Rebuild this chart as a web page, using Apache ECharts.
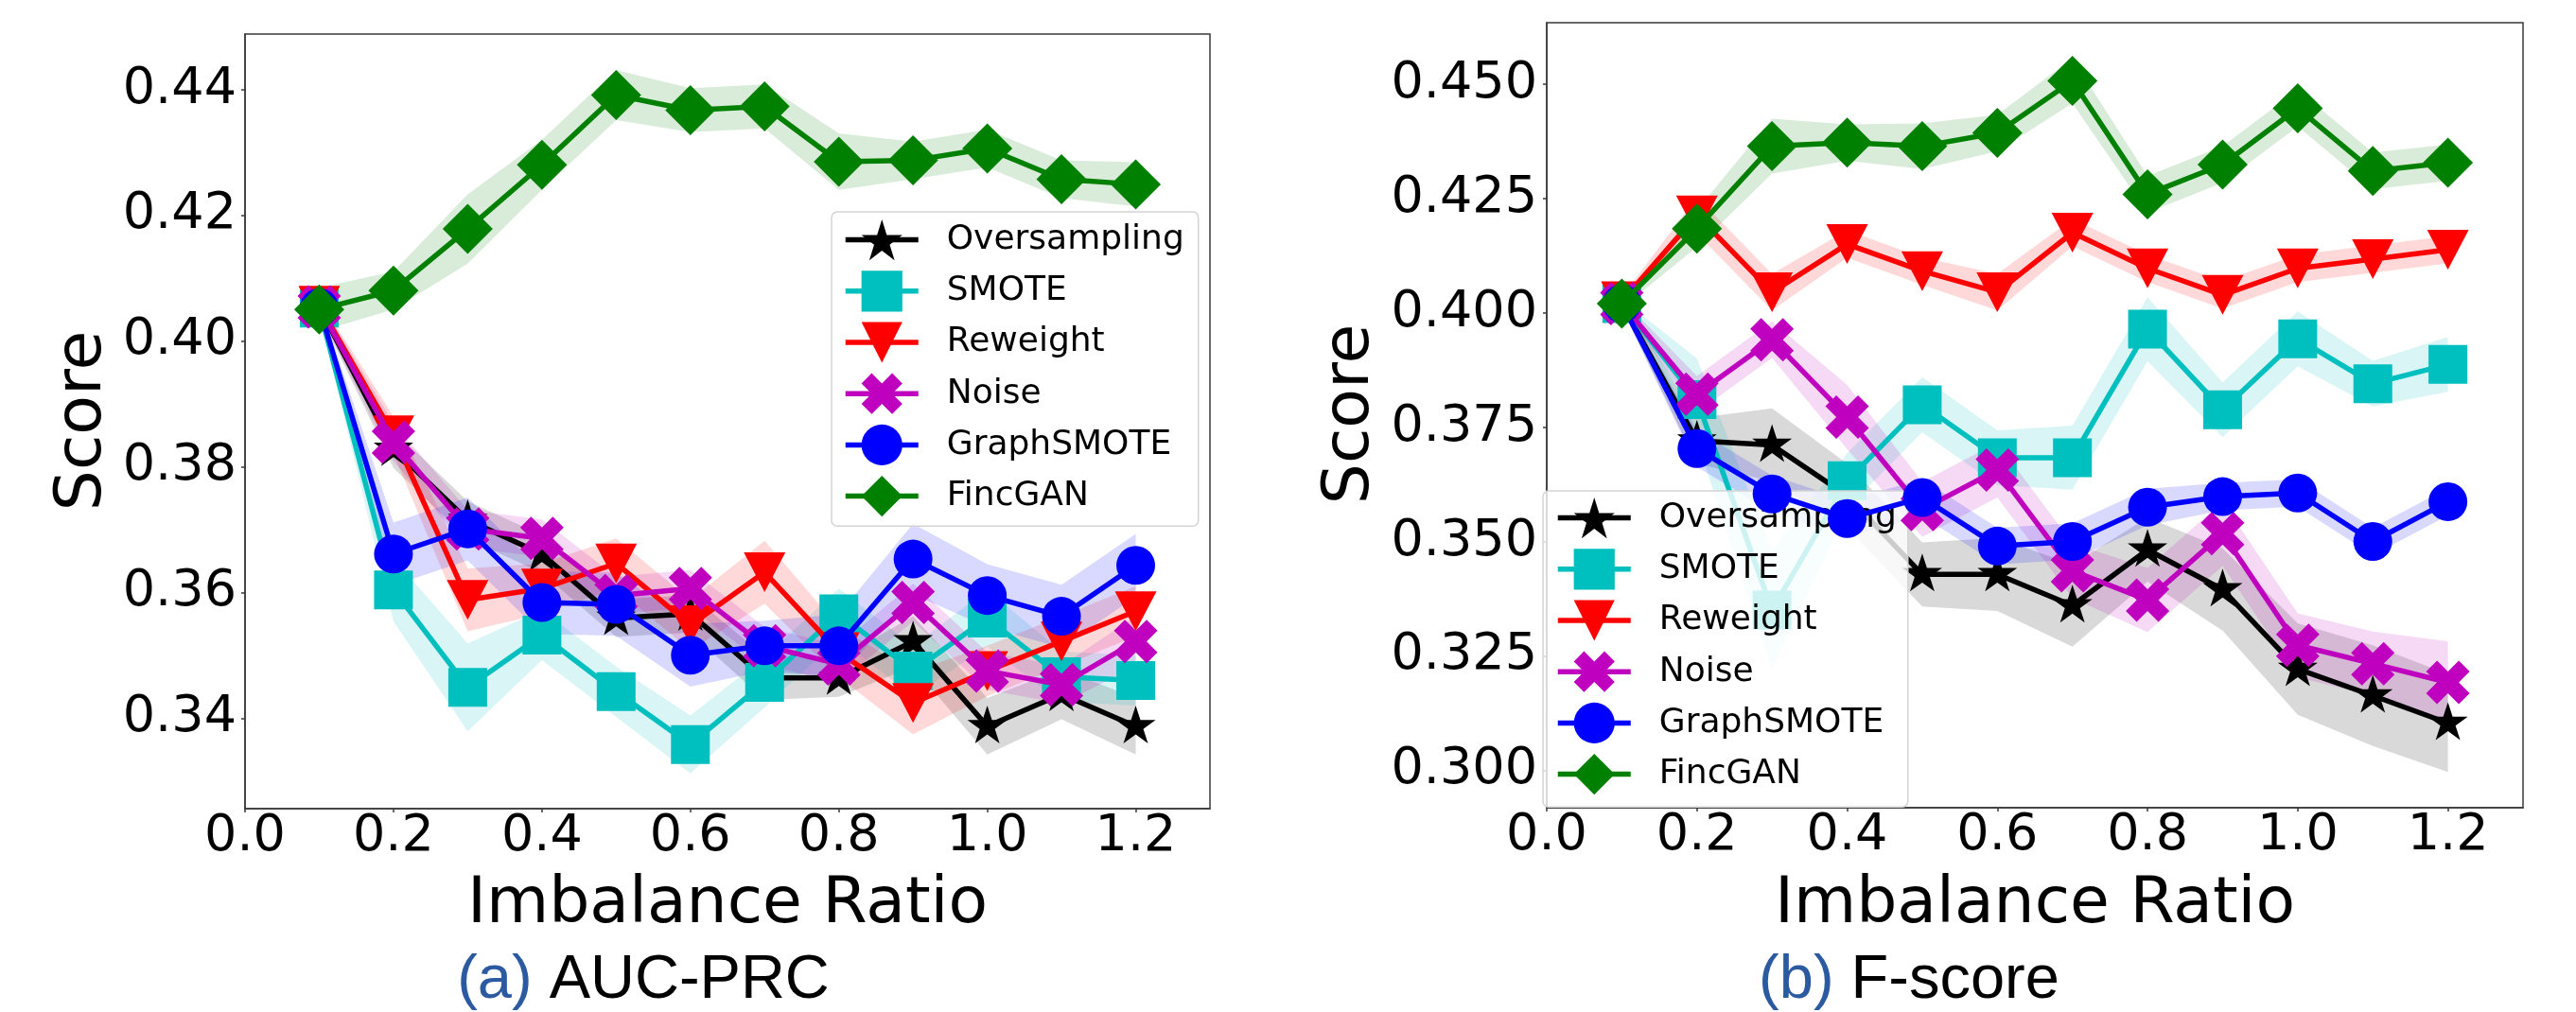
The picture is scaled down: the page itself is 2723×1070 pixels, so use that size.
<!DOCTYPE html>
<html>
<head>
<meta charset="utf-8">
<script src="https://cdn.jsdelivr.net/npm/echarts@6/dist/echarts.min.js"></script>
<style>
html,body{margin:0;padding:0;background:#fff;}
#chart{width:2723px;height:1070px;}
</style>
</head>
<body>
<div id="chart"></div>
<script>
// ---------------- data ----------------
const ratios = [0.1, 0.2, 0.3, 0.4, 0.5, 0.6, 0.7, 0.8, 0.9, 1.0, 1.1, 1.2];
const methods = ['Oversampling', 'SMOTE', 'Reweight', 'Noise', 'GraphSMOTE', 'FincGAN'];
const xTicks = [0.0, 0.2, 0.4, 0.6, 0.8, 1.0, 1.2];
const yTicksAUC = [0.34, 0.36, 0.38, 0.40, 0.42, 0.44];
const yTicksF = [0.300, 0.325, 0.350, 0.375, 0.400, 0.425, 0.450];

// (a) AUC-PRC means
const aucOversampling = [0.4054, 0.3828, 0.3715, 0.3661, 0.3559, 0.3566, 0.3464, 0.3464, 0.3522, 0.3387, 0.3438, 0.3387];
const aucSMOTE        = [0.4052, 0.3604, 0.3449, 0.3532, 0.3442, 0.3358, 0.3457, 0.3566, 0.3475, 0.3559, 0.3466, 0.3460];
const aucReweight     = [0.4056, 0.3850, 0.3588, 0.3606, 0.3646, 0.3548, 0.3632, 0.3505, 0.3424, 0.3475, 0.3522, 0.3570];
const aucNoise        = [0.4054, 0.3839, 0.3701, 0.3686, 0.3595, 0.3606, 0.3515, 0.3486, 0.3584, 0.3475, 0.3453, 0.3522];
const aucGraphSMOTE   = [0.4053, 0.3661, 0.3701, 0.3584, 0.3581, 0.3500, 0.3515, 0.3515, 0.3653, 0.3595, 0.3562, 0.3643];
const aucFincGAN      = [0.4050, 0.4080, 0.4178, 0.4280, 0.4391, 0.4367, 0.4373, 0.4285, 0.4287, 0.4306, 0.4257, 0.4249];
// (a) AUC-PRC std (shaded band half-width)
const aucOversamplingStd = [0.0010, 0.0030, 0.0030, 0.0030, 0.0030, 0.0030, 0.0035, 0.0030, 0.0040, 0.0045, 0.0040, 0.0045];
const aucSMOTEStd        = [0.0010, 0.0050, 0.0070, 0.0040, 0.0040, 0.0046, 0.0040, 0.0040, 0.0040, 0.0045, 0.0040, 0.0040];
const aucReweightStd     = [0.0010, 0.0030, 0.0050, 0.0040, 0.0040, 0.0040, 0.0050, 0.0040, 0.0050, 0.0040, 0.0040, 0.0040];
const aucNoiseStd        = [0.0010, 0.0030, 0.0030, 0.0030, 0.0030, 0.0030, 0.0030, 0.0030, 0.0030, 0.0030, 0.0030, 0.0040];
const aucGraphSMOTEStd   = [0.0010, 0.0050, 0.0050, 0.0050, 0.0050, 0.0050, 0.0040, 0.0050, 0.0056, 0.0050, 0.0050, 0.0050];
const aucFincGANStd      = [0.0035, 0.0030, 0.0055, 0.0040, 0.0040, 0.0035, 0.0035, 0.0045, 0.0030, 0.0030, 0.0030, 0.0035];

// (b) F-score means
const fOversampling = [0.4020, 0.3720, 0.3711, 0.3600, 0.3428, 0.3428, 0.3360, 0.3482, 0.3395, 0.3221, 0.3163, 0.3103];
const fSMOTE        = [0.4020, 0.3810, 0.3350, 0.3633, 0.3799, 0.3683, 0.3683, 0.3964, 0.3788, 0.3943, 0.3845, 0.3887];
const fReweight     = [0.4025, 0.4213, 0.4045, 0.4150, 0.4091, 0.4045, 0.4175, 0.4097, 0.4039, 0.4097, 0.4117, 0.4138];
const fNoise        = [0.4020, 0.3822, 0.3941, 0.3772, 0.3570, 0.3656, 0.3436, 0.3372, 0.3517, 0.3273, 0.3233, 0.3192];
const fGraphSMOTE   = [0.4020, 0.3703, 0.3604, 0.3550, 0.3596, 0.3490, 0.3500, 0.3575, 0.3598, 0.3606, 0.3500, 0.3587];
const fFincGAN      = [0.4020, 0.4184, 0.4364, 0.4372, 0.4364, 0.4393, 0.4507, 0.4259, 0.4324, 0.4447, 0.4310, 0.4328];
// (b) F-score std
const fOversamplingStd = [0.0010, 0.0050, 0.0080, 0.0070, 0.0070, 0.0080, 0.0090, 0.0070, 0.0090, 0.0100, 0.0110, 0.0107];
const fSMOTEStd        = [0.0010, 0.0090, 0.0130, 0.0060, 0.0060, 0.0060, 0.0070, 0.0070, 0.0060, 0.0060, 0.0050, 0.0060];
const fReweightStd     = [0.0010, 0.0040, 0.0040, 0.0030, 0.0030, 0.0040, 0.0030, 0.0030, 0.0030, 0.0030, 0.0030, 0.0030];
const fNoiseStd        = [0.0010, 0.0040, 0.0040, 0.0070, 0.0060, 0.0060, 0.0060, 0.0070, 0.0070, 0.0070, 0.0070, 0.0090];
const fGraphSMOTEStd   = [0.0010, 0.0040, 0.0040, 0.0040, 0.0040, 0.0040, 0.0040, 0.0040, 0.0030, 0.0030, 0.0030, 0.0030];
const fFincGANStd      = [0.0010, 0.0040, 0.0060, 0.0040, 0.0050, 0.0040, 0.0049, 0.0040, 0.0040, 0.0040, 0.0040, 0.0040];

// ---------------- styles ----------------
const colors = {Oversampling:'#000000', SMOTE:'#00bfbf', Reweight:'#ff0000', Noise:'#bf00bf', GraphSMOTE:'#0000ff', FincGAN:'#008000'};
const STAR = 'path://M0,-1000 L224.5,-309 L951.1,-309 L363.3,118 L587.8,809 L0,382 L-587.8,809 L-363.3,118 L-951.1,-309 L-224.5,-309 Z';
const XFILL = 'path://M1414,-2828 L2828,-1414 L1414,0 L2828,1414 L1414,2828 L0,1414 L-1414,2828 L-2828,1414 L-1414,0 L-2828,-1414 L-1414,-2828 L0,-1414 Z';
const TRI_DOWN = 'path://M-1000,-1000 L1000,-1000 L0,1000 Z';
const symbols = {
  Oversampling: {symbol: STAR, size: [42, 40], offset: [0, -2]},
  SMOTE: {symbol: 'rect', size: 41, offset: [0, 0]},
  Reweight: {symbol: TRI_DOWN, size: [44, 42], offset: [0, 0]},
  Noise: {symbol: XFILL, size: 46, offset: [0, 0]},
  GraphSMOTE: {symbol: 'circle', size: 41, offset: [0, 0]},
  FincGAN: {symbol: 'diamond', size: 53, offset: [0, 0]}
};

const aucMeans = [aucOversampling, aucSMOTE, aucReweight, aucNoise, aucGraphSMOTE, aucFincGAN];
const aucStds = [aucOversamplingStd, aucSMOTEStd, aucReweightStd, aucNoiseStd, aucGraphSMOTEStd, aucFincGANStd];
const fMeans = [fOversampling, fSMOTE, fReweight, fNoise, fGraphSMOTE, fFincGAN];
const fStds = [fOversamplingStd, fSMOTEStd, fReweightStd, fNoiseStd, fGraphSMOTEStd, fFincGANStd];

function rgba(hex, a) {
  const r = parseInt(hex.slice(1,3),16), g = parseInt(hex.slice(3,5),16), b = parseInt(hex.slice(5,7),16);
  return 'rgba(' + r + ',' + g + ',' + b + ',' + a + ')';
}

function bandSeries(name, ys, sd, axisIdx) {
  return {
    type: 'custom',
    name: name + ' band ' + axisIdx,
    xAxisIndex: axisIdx, yAxisIndex: axisIdx,
    silent: true, z: 1, clip: true,
    data: [[ratios[0], ys[0]]],
    encode: {x: 0, y: 1},
    renderItem: function (params, api) {
      const pts = [];
      for (let i = 0; i < ratios.length; i++) pts.push(api.coord([ratios[i], ys[i] + sd[i]]));
      for (let i = ratios.length - 1; i >= 0; i--) pts.push(api.coord([ratios[i], ys[i] - sd[i]]));
      return {type: 'polygon', shape: {points: pts}, style: {fill: rgba(colors[name], 0.15)}};
    }
  };
}

function lineSeries(name, ys, axisIdx, order) {
  const s = symbols[name];
  return {
    type: 'line', name: name,
    xAxisIndex: axisIdx, yAxisIndex: axisIdx,
    data: ratios.map((x, i) => [x, ys[i]]),
    symbol: s.symbol, symbolSize: s.size, symbolOffset: s.offset,
    showAllSymbol: true, z: 2 + order, clip: false,
    lineStyle: {color: colors[name], width: 5.5},
    itemStyle: {color: colors[name], borderWidth: 0},
    emphasis: {disabled: true}
  };
}

const series = [];
methods.forEach((m, i) => series.push(bandSeries(m, aucMeans[i], aucStds[i], 0)));
methods.forEach((m, i) => series.push(bandSeries(m, fMeans[i], fStds[i], 1)));
methods.forEach((m, i) => series.push(lineSeries(m, aucMeans[i], 0, i)));
methods.forEach((m, i) => series.push(lineSeries(m, fMeans[i], 1, i)));

const FONT = '"DejaVu Sans", sans-serif';
const axisColor = '#3a3a3a';

function xAxisCfg(gridIndex) {
  return {
    type: 'value', gridIndex: gridIndex, min: 0, max: 1.3,
    axisLine: {show: true, onZero: false, lineStyle: {color: axisColor, width: 1.5}},
    axisTick: {show: true, length: 4, customValues: xTicks, lineStyle: {color: axisColor, width: 1.5}},
    axisLabel: {customValues: xTicks, formatter: v => v.toFixed(1), fontFamily: FONT, fontSize: 54, color: '#000', margin: 3},
    splitLine: {show: false}
  };
}
function yAxisCfg(gridIndex, min, max, ticks, dec, margin) {
  return {
    type: 'value', gridIndex: gridIndex, min: min, max: max,
    axisLine: {show: true, onZero: false, lineStyle: {color: axisColor, width: 1.5}},
    axisTick: {show: true, length: 4, customValues: ticks, lineStyle: {color: axisColor, width: 1.5}},
    axisLabel: {customValues: ticks, formatter: v => v.toFixed(dec), fontFamily: FONT, fontSize: 54, color: '#000', margin: margin},
    splitLine: {show: false}
  };
}

function legendCfg(left, top, padding) {
  return {
    show: true, orient: 'vertical', left: left, top: top, padding: padding,
    data: methods, itemWidth: 77, itemHeight: 54, itemGap: 11,
    selectedMode: false,
    lineStyle: {width: 5.5},
    backgroundColor: 'rgba(255,255,255,0.8)', borderColor: '#d4d4d4', borderWidth: 1.5, borderRadius: 6,
    textStyle: {fontFamily: FONT, fontSize: 36, color: '#000', padding: [0, 0, 0, 25]}
  };
}

const option = {
  animation: false,
  backgroundColor: '#ffffff',
  grid: [
    {left: 259, top: 36, width: 1020, height: 819, show: true, borderColor: axisColor, borderWidth: 1.5, backgroundColor: 'transparent', containLabel: false},
    {left: 1635, top: 24, width: 1032, height: 830, show: true, borderColor: axisColor, borderWidth: 1.5, backgroundColor: 'transparent', containLabel: false}
  ],
  xAxis: [xAxisCfg(0), xAxisCfg(1)],
  yAxis: [
    yAxisCfg(0, 0.3256, 0.4488, yTicksAUC, 2, 9),
    yAxisCfg(1, 0.2918, 0.4634, yTicksF, 3, 10)
  ],
  legend: [legendCfg(879, 224, [8, 15, 10, 12]), legendCfg(1631, 519, [7, 12, 13, 13])],
  series: series,
  graphic: [
    {type: 'text', x: 88, y: 445, rotation: Math.PI / 2,
     style: {text: 'Score', font: '68px "DejaVu Sans"', fill: '#000', textAlign: 'center', textVerticalAlign: 'middle', align: 'center', verticalAlign: 'middle'}},
    {type: 'text', x: 1428, y: 438, rotation: Math.PI / 2,
     style: {text: 'Score', font: '68px "DejaVu Sans"', fill: '#000', textAlign: 'center', textVerticalAlign: 'middle', align: 'center', verticalAlign: 'middle'}},
    {type: 'text', x: 769, y: 957,
     style: {text: 'Imbalance Ratio', font: '68px "DejaVu Sans"', fill: '#000', textAlign: 'center', textVerticalAlign: 'middle', align: 'center', verticalAlign: 'middle'}},
    {type: 'text', x: 2151, y: 957,
     style: {text: 'Imbalance Ratio', font: '68px "DejaVu Sans"', fill: '#000', textAlign: 'center', textVerticalAlign: 'middle', align: 'center', verticalAlign: 'middle'}},
    {type: 'text', x: 680, y: 1037,
     style: {text: '{p|(a)} {t|AUC-PRC}', textAlign: 'center', textVerticalAlign: 'middle', align: 'center', verticalAlign: 'middle',
       rich: {p: {fontFamily: '"Liberation Sans"', fontSize: 65, fill: '#2b5aa0', color: '#2b5aa0'},
              t: {fontFamily: '"Liberation Sans"', fontSize: 65, fill: '#000', color: '#000'}},
       font: '65px "Liberation Sans"', fill: '#000'}},
    {type: 'text', x: 2018, y: 1037,
     style: {text: '{p|(b)} {t|F-score}', textAlign: 'center', textVerticalAlign: 'middle', align: 'center', verticalAlign: 'middle',
       rich: {p: {fontFamily: '"Liberation Sans"', fontSize: 65, fill: '#2b5aa0', color: '#2b5aa0'},
              t: {fontFamily: '"Liberation Sans"', fontSize: 65, fill: '#000', color: '#000'}},
       font: '65px "Liberation Sans"', fill: '#000'}}
  ]
};

const chart = echarts.init(document.getElementById('chart'), null, {renderer: 'canvas', width: 2723, height: 1070});
chart.setOption(option);
</script>
</body>
</html>
